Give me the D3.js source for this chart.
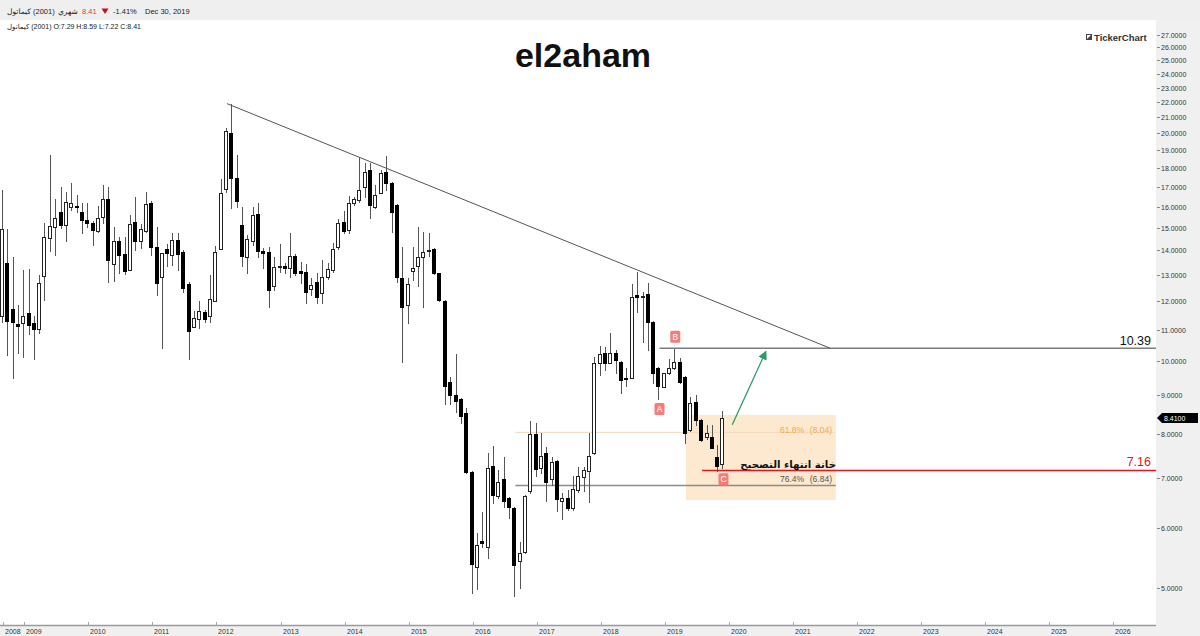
<!DOCTYPE html>
<html><head><meta charset="utf-8">
<script src="https://cdn.jsdelivr.net/npm/d3@7"></script>
<style>body{margin:0;background:#fff;} svg{display:block;} .ltr{direction:ltr;unicode-bidi:embed;}</style>
</head><body>
<svg id="c" width="1200" height="636"></svg>
<script>
// ---------- data (monthly candles) ----------
const months = [
"2008-09","2008-10","2008-11","2008-12",
"2009-01","2009-02","2009-03","2009-04","2009-05","2009-06","2009-07","2009-08","2009-09","2009-10","2009-11","2009-12",
"2010-01","2010-02","2010-03","2010-04","2010-05","2010-06","2010-07","2010-08","2010-09","2010-10","2010-11","2010-12",
"2011-01","2011-02","2011-03","2011-04","2011-05","2011-06","2011-07","2011-08","2011-09","2011-10","2011-11","2011-12",
"2012-01","2012-02","2012-03","2012-04","2012-05","2012-06","2012-07","2012-08","2012-09","2012-10","2012-11","2012-12",
"2013-01","2013-02","2013-03","2013-04","2013-05","2013-06","2013-07","2013-08","2013-09","2013-10","2013-11","2013-12",
"2014-01","2014-02","2014-03","2014-04","2014-05","2014-06","2014-07","2014-08","2014-09","2014-10","2014-11","2014-12",
"2015-01","2015-02","2015-03","2015-04","2015-05","2015-06","2015-07","2015-08","2015-09","2015-10","2015-11","2015-12",
"2016-01","2016-02","2016-03","2016-04","2016-05","2016-06","2016-07","2016-08","2016-09","2016-10","2016-11","2016-12",
"2017-01","2017-02","2017-03","2017-04","2017-05","2017-06","2017-07","2017-08","2017-09","2017-10","2017-11","2017-12",
"2018-01","2018-02","2018-03","2018-04","2018-05","2018-06","2018-07","2018-08","2018-09","2018-10","2018-11","2018-12",
"2019-01","2019-02","2019-03","2019-04","2019-05","2019-06","2019-07","2019-08","2019-09","2019-10","2019-11","2019-12"];

const open = [
11.46,13.48,11.71,11.18,
11.22,11.57,11.22,11.01,12.95,14.54,15.04,15.74,15.13,15.98,16.03,15.74,
15.36,15.22,14.86,15.50,16.38,13.44,14.41,13.85,13.19,15.27,14.41,14.86,
16.18,14.14,12.91,14.06,13.81,14.45,13.94,12.63,11.08,11.36,11.60,11.46,
12.00,14.06,16.88,20.03,17.46,15.13,13.72,14.41,15.64,13.98,13.94,12.56,
13.31,13.35,13.27,13.77,13.15,13.11,12.45,12.71,12.30,12.91,13.19,14.14,
15.27,14.90,16.18,16.33,16.98,17.89,15.98,16.68,17.78,17.19,16.08,12.87,
11.86,13.15,13.35,13.72,13.98,14.06,13.07,12.00,9.37,9.01,8.90,8.53,
7.13,5.33,5.77,5.67,7.26,6.62,6.97,6.58,6.39,5.43,5.59,6.72,
8.00,7.21,7.55,6.97,7.37,6.52,6.58,6.39,6.74,7.02,7.15,7.55,
9.93,10.23,9.93,10.23,9.96,9.49,9.49,12.22,12.15,12.26,11.25,9.78,
9.23,9.63,9.78,9.96,9.52,8.10,8.82,8.35,7.93,7.93,7.46,7.29];

const high = [
16.83,14.95,13.72,11.86,
13.19,13.23,11.46,12.99,15.22,18.73,16.38,16.98,16.73,17.19,16.58,16.18,
16.18,15.31,16.03,17.08,16.98,15.04,14.58,14.58,15.60,16.48,15.17,16.73,
16.28,15.04,13.89,14.27,14.77,14.77,14.02,12.71,11.64,12.00,11.67,12.99,
14.19,17.40,20.33,21.88,18.73,15.98,14.68,15.98,16.18,14.10,14.14,13.72,
14.27,13.48,14.77,13.85,13.52,13.44,12.87,13.07,13.60,13.48,14.32,15.41,
15.79,16.53,16.48,18.55,18.27,18.27,17.08,17.89,18.67,17.24,16.13,14.14,
12.87,14.14,15.04,14.81,14.77,14.10,13.07,12.04,9.52,10.20,8.93,8.66,
7.15,5.92,6.31,7.55,7.71,7.17,7.46,6.60,6.41,5.76,6.64,8.32,
8.27,8.03,7.69,7.46,7.39,6.68,6.74,7.04,7.23,7.23,8.03,10.11,
10.46,10.43,10.88,10.33,9.99,9.78,12.63,13.11,12.33,12.67,11.29,9.81,
9.63,10.06,10.36,10.08,9.55,8.95,9.01,8.37,8.23,8.23,7.73,8.59];

const low = [
11.25,10.17,9.49,10.24,
10.12,10.85,10.06,10.88,12.04,13.98,13.81,14.99,14.41,15.84,15.74,14.77,
15.04,14.23,14.81,15.22,12.71,12.75,13.07,13.03,13.19,14.02,14.10,14.81,
13.81,12.22,10.39,13.35,13.39,13.19,12.33,10.06,11.08,11.05,11.25,11.25,
12.00,14.06,16.73,15.94,15.98,13.35,13.07,14.23,13.72,13.27,11.78,12.41,
13.11,13.07,12.91,12.99,12.67,11.93,12.22,11.93,11.93,12.83,13.11,14.06,
14.77,14.77,16.08,16.23,16.48,15.45,15.94,16.68,16.83,14.81,12.71,9.96,
11.22,12.79,12.56,11.78,13.77,13.03,12.00,8.76,8.76,8.56,8.27,7.10,
4.92,4.99,5.67,5.48,6.48,6.58,6.41,6.19,4.88,5.00,5.57,6.68,
7.04,7.10,6.52,6.85,6.33,6.17,6.35,6.35,6.70,6.72,6.50,7.53,
9.57,9.72,9.93,9.63,9.07,9.26,9.49,11.60,10.59,10.33,9.34,8.90,
9.23,9.60,9.75,9.35,7.78,8.08,8.23,7.83,7.88,7.67,7.15,7.22];

const close = [
14.95,11.29,11.25,11.11,
11.46,11.15,11.01,12.67,14.58,15.08,15.45,15.13,16.23,16.18,15.98,15.36,
15.22,14.90,15.45,16.38,13.60,14.41,13.81,13.15,15.17,14.41,14.95,16.13,
14.14,12.67,13.89,13.89,14.45,13.85,12.49,10.95,11.39,11.64,11.36,12.08,
13.94,16.68,20.15,17.46,16.28,13.77,14.50,15.60,13.98,13.89,12.41,13.31,
13.35,13.27,13.77,13.07,13.07,12.33,12.60,12.15,12.91,13.23,14.06,15.22,
14.86,16.18,16.38,16.83,17.78,16.08,16.58,17.73,17.19,15.74,12.91,11.78,
12.63,13.27,13.72,13.94,14.02,13.07,12.04,9.26,9.01,8.84,8.45,7.13,
5.38,5.70,5.74,7.21,6.64,6.91,6.52,6.41,5.36,5.57,6.62,8.00,
7.19,7.48,6.91,7.35,6.56,6.58,6.39,6.76,7.04,7.17,7.48,9.93,
10.20,9.93,10.23,10.02,9.43,9.46,12.15,12.15,12.19,11.25,9.63,9.26,
9.63,9.78,9.96,9.37,8.03,8.79,8.35,7.85,8.03,7.67,7.26,8.41];

// axis ticks
const priceTicks = [5,6,7,8,9,10,11,12,13,14,15,16,17,18,19,20,21,22,23,24,25,26,27];
const yearTickDates = ["2008-09-01","2009-01-01","2010-01-01","2011-01-01","2012-01-01","2013-01-01","2014-01-01","2015-01-01","2016-01-01","2017-01-01","2018-01-01","2019-01-01","2020-01-01","2021-01-01","2022-01-01","2023-01-01","2024-01-01","2025-01-01","2026-01-01"];
const yearTickLabels = ["2008","2009","2010","2011","2012","2013","2014","2015","2016","2017","2018","2019","2020","2021","2022","2023","2024","2025","2026"];

// annotations (date, price)
const trendLine = [["2012-03-01", 21.9], ["2021-08-01", 10.39]];
const levelB = {from: "2018-12-01", price: 10.39, label: "10.39"};
const levelRed = {from: "2019-08-01", price: 7.16, label: "7.16"};
const fibLevels = [{ratio: "61.8%", value: "(8.04)", price: 8.04}, {ratio: "76.4%", value: "(6.84)", price: 6.84}];
const fibSpan = ["2016-09-01", "2021-09-01"];
const zone = {from: "2019-05-01", to: "2021-09-01", top: 8.48, bottom: 6.54};
const arrowPts = [["2020-01-20", 8.23], ["2020-07-28", 10.27]];
const pointLabels = [{t: "A", date: "2018-12-01", price: 8.63}, {t: "B", date: "2019-03-01", price: 10.76}, {t: "C", date: "2019-12-01", price: 6.97}];
const lastPrice = 8.41;

// ---------- layout ----------
const W = 1200, H = 636;
const plotL = 0, plotR = 1156, plotT = 20, plotB = 625;
const parseM = d3.utcParse("%Y-%m");
const parseD = d3.utcParse("%Y-%m-%d");

const x = d3.scaleUtc().domain([parseD("2008-08-15"), parseD("2026-09-01")]).range([plotL, plotR]);
const y = d3.scaleLog().domain([4.469, 28.26]).range([plotB, plotT]);

const svg = d3.select("#c");
const LAT = "'Liberation Sans', Arial, 'DejaVu Sans', sans-serif";
const ARB = "'DejaVu Sans', 'Noto Sans', sans-serif";
const LRM = "\u200E";

svg.append("rect").attr("width", W).attr("height", H).attr("fill", "#fff");

// header
svg.append("rect").attr("x", 0).attr("y", 0).attr("width", W).attr("height", 20).attr("fill", "#efefef");
const hdr = svg.append("g").attr("font-family", LAT).attr("font-size", 7.5).attr("fill", "#222");
hdr.append("text").attr("class", "ltr").attr("x", 7).attr("y", 13.5).text(LRM + "كيماتول" + LRM + " (2001)");
hdr.append("text").attr("class", "ltr").attr("x", 58).attr("y", 13.5).text("شهري");
hdr.append("text").attr("x", 82).attr("y", 13.5).attr("fill", "#d43f3a").text("8.41");
hdr.append("path").attr("d", "M101.5,8.5 L108.5,8.5 L105,14 Z").attr("fill", "#c0121b");
hdr.append("text").attr("x", 113).attr("y", 13.5).text("-1.41%");
hdr.append("text").attr("x", 145).attr("y", 13.5).text("Dec 30, 2019");
svg.append("text").attr("class", "ltr").attr("x", 7).attr("y", 28.5).attr("font-family", LAT).attr("font-size", 7).attr("fill", "#222")
  .text(LRM + "كيماتول" + LRM + " (2001)  O:7.29  H:8.59  L:7.22  C:8.41");

// right price axis panel
svg.append("rect").attr("x", plotR).attr("y", plotT).attr("width", W - plotR).attr("height", H - plotT).attr("fill", "#f0f0f0");
// bottom axis panel
svg.append("rect").attr("x", 0).attr("y", plotB + 1).attr("width", W).attr("height", H - plotB - 1).attr("fill", "#f0f0f0");

const ax = svg.append("g").attr("font-family", LAT).attr("font-size", 7).attr("fill", "#333");
priceTicks.forEach(v => {
  const yy = Math.round(y(v)) + 0.5;
  ax.append("line").attr("x1", plotR + 1).attr("x2", plotR + 4).attr("y1", yy).attr("y2", yy).attr("stroke", "#888");
  ax.append("text").attr("x", plotR + 5).attr("y", yy + 2.5).text(d3.format(".4f")(v));
});
svg.append("line").attr("x1", 0).attr("x2", plotR).attr("y1", plotB + 0.5).attr("y2", plotB + 0.5)
  .attr("stroke", "#9a9a9a").attr("stroke-width", 1.5);
yearTickDates.forEach((d, i) => {
  const xx = Math.round(x(parseD(d))) + 0.5;
  ax.append("line").attr("x1", xx).attr("x2", xx).attr("y1", plotB - 3).attr("y2", plotB).attr("stroke", "#aaa");
  ax.append("text").attr("x", xx + 1.5).attr("y", 633.5).text(yearTickLabels[i]);
});

// title & logo
svg.append("text").attr("x", 583).attr("y", 67).attr("text-anchor", "middle")
  .attr("font-family", LAT).attr("font-weight", "bold").attr("font-size", 34).attr("fill", "#111").text("el2aham");
svg.append("rect").attr("x", 1086.5).attr("y", 34.5).attr("width", 5).attr("height", 5).attr("fill", "#fff").attr("stroke", "#444");
svg.append("path").attr("d", "M1087,39 L1091,35 L1091,39 Z").attr("fill", "#444");
svg.append("text").attr("x", 1094).attr("y", 40.5).attr("font-family", LAT).attr("font-weight", "bold")
  .attr("font-size", 9.5).attr("fill", "#333").text("TickerChart");

// plot content clipped
svg.append("defs").append("clipPath").attr("id", "clip")
  .append("rect").attr("x", plotL).attr("y", plotT).attr("width", plotR - plotL).attr("height", plotB - plotT);
const g = svg.append("g").attr("clip-path", "url(#clip)");

// correction zone box
const zx0 = x(parseD(zone.from)), zx1 = x(parseD(zone.to));
g.append("rect").attr("x", zx0).attr("y", y(zone.top)).attr("width", zx1 - zx0).attr("height", y(zone.bottom) - y(zone.top))
  .attr("fill", "#fde9cf");

// fib lines
const fx0 = x(parseD(fibSpan[0])), fx1 = x(parseD(fibSpan[1]));
g.append("line").attr("x1", fx0).attr("x2", fx1).attr("y1", y(fibLevels[0].price)).attr("y2", y(fibLevels[0].price))
  .attr("stroke", "#f4d9bb").attr("stroke-width", 1);
g.append("line").attr("x1", fx0).attr("x2", fx1).attr("y1", y(fibLevels[1].price)).attr("y2", y(fibLevels[1].price))
  .attr("stroke", "#8c8c8c").attr("stroke-width", 1.5);

// horizontal levels
g.append("line").attr("x1", x(parseD(levelB.from))).attr("x2", plotR).attr("y1", y(levelB.price)).attr("y2", y(levelB.price))
  .attr("stroke", "#7d7d7d").attr("stroke-width", 1.5);
g.append("line").attr("x1", x(parseD(levelRed.from))).attr("x2", plotR).attr("y1", y(levelRed.price)).attr("y2", y(levelRed.price))
  .attr("stroke", "#e8141b").attr("stroke-width", 1.5);

// trend line
g.append("line")
  .attr("x1", x(parseD(trendLine[0][0]))).attr("y1", y(trendLine[0][1]))
  .attr("x2", x(parseD(trendLine[1][0]))).attr("y2", y(trendLine[1][1]))
  .attr("stroke", "#555").attr("stroke-width", 1);

// candles
const candles = months.map((m, i) => ({d: parseM(m), o: open[i], h: high[i], l: low[i], c: close[i]}));
const cg = g.append("g");
candles.forEach(k => {
  const cx = Math.round(x(k.d));
  cg.append("line").attr("x1", cx - 0.5).attr("x2", cx - 0.5)
    .attr("y1", Math.round(y(k.h))).attr("y2", Math.round(y(k.l)) + 1)
    .attr("stroke", "#555").attr("stroke-width", 1);
  const top = Math.round(y(Math.max(k.o, k.c)));
  const bot = Math.round(y(Math.min(k.o, k.c)));
  const up = k.c >= k.o;
  cg.append("rect").attr("x", cx - 2.5).attr("y", top + 0.5).attr("width", 3)
    .attr("height", Math.max(0.01, bot - top))
    .attr("fill", up ? "#fff" : "#000").attr("stroke", up ? "#222" : "#000").attr("stroke-width", 1);
});

// arrow
svg.append("defs").append("marker").attr("id", "ah").attr("viewBox", "0 0 10 10").attr("refX", 8).attr("refY", 5)
  .attr("markerWidth", 7).attr("markerHeight", 7).attr("orient", "auto")
  .append("path").attr("d", "M0,0 L10,5 L0,10 Z").attr("fill", "#2b9b6b");
g.append("line")
  .attr("x1", x(parseD(arrowPts[0][0]))).attr("y1", y(arrowPts[0][1]))
  .attr("x2", x(parseD(arrowPts[1][0]))).attr("y2", y(arrowPts[1][1]))
  .attr("stroke", "#2b9b6b").attr("stroke-width", 1.3).attr("marker-end", "url(#ah)");

// point labels A B C
pointLabels.forEach(p => {
  const px = x(parseD(p.date)), py = y(p.price);
  g.append("rect").attr("x", px - 5).attr("y", py - 6).attr("width", 10).attr("height", 12).attr("rx", 1.5)
    .attr("fill", "#f47d7b");
  g.append("text").attr("x", px).attr("y", py + 3).attr("text-anchor", "middle").attr("font-family", LAT)
    .attr("font-size", 8.5).attr("fill", "#fff").text(p.t);
});

// fib labels
const fibTxt = svg.append("g").attr("font-family", LAT).attr("font-size", 8.5);
fibTxt.append("text").attr("x", 780).attr("y", y(fibLevels[0].price) + 1).attr("fill", "#f0a94c").text(fibLevels[0].ratio);
fibTxt.append("text").attr("x", 832).attr("y", y(fibLevels[0].price) + 1).attr("text-anchor", "end").attr("fill", "#f0a94c").text(fibLevels[0].value);
fibTxt.append("text").attr("x", 780).attr("y", y(fibLevels[1].price) - 3).attr("fill", "#555").text(fibLevels[1].ratio);
fibTxt.append("text").attr("x", 832).attr("y", y(fibLevels[1].price) - 3).attr("text-anchor", "end").attr("fill", "#555").text(fibLevels[1].value);

// level labels
svg.append("text").attr("x", 1151).attr("y", y(levelB.price) - 3.5).attr("text-anchor", "end")
  .attr("font-family", LAT).attr("font-size", 12.5).attr("fill", "#111").text(levelB.label);
svg.append("text").attr("x", 1151).attr("y", y(levelRed.price) - 4.5).attr("text-anchor", "end")
  .attr("font-family", LAT).attr("font-size", 12.5).attr("fill", "#e8141b").text(levelRed.label);

// arabic annotation
const arb = svg.append("text").attr("x", 836).attr("y", 468).attr("text-anchor", "end")
  .attr("font-family", ARB).attr("font-weight", "bold").attr("font-size", 14).attr("fill", "#111")
  .text("خانة انتهاء التصحيح");
const tl = arb.node().getComputedTextLength();
if (tl > 0) arb.attr("font-size", 14 * 96 / tl);

// last price tag
const ly = Math.round(y(lastPrice));
svg.append("path").attr("d", `M${plotR + 1},${ly} L${plotR + 6},${ly - 5} L1198,${ly - 5} L1198,${ly + 5} L${plotR + 6},${ly + 5} Z`)
  .attr("fill", "#000");
svg.append("text").attr("x", plotR + 8).attr("y", ly + 2.5).attr("font-family", LAT).attr("font-size", 7)
  .attr("fill", "#fff").text(d3.format(".4f")(lastPrice));
</script>
</body></html>
